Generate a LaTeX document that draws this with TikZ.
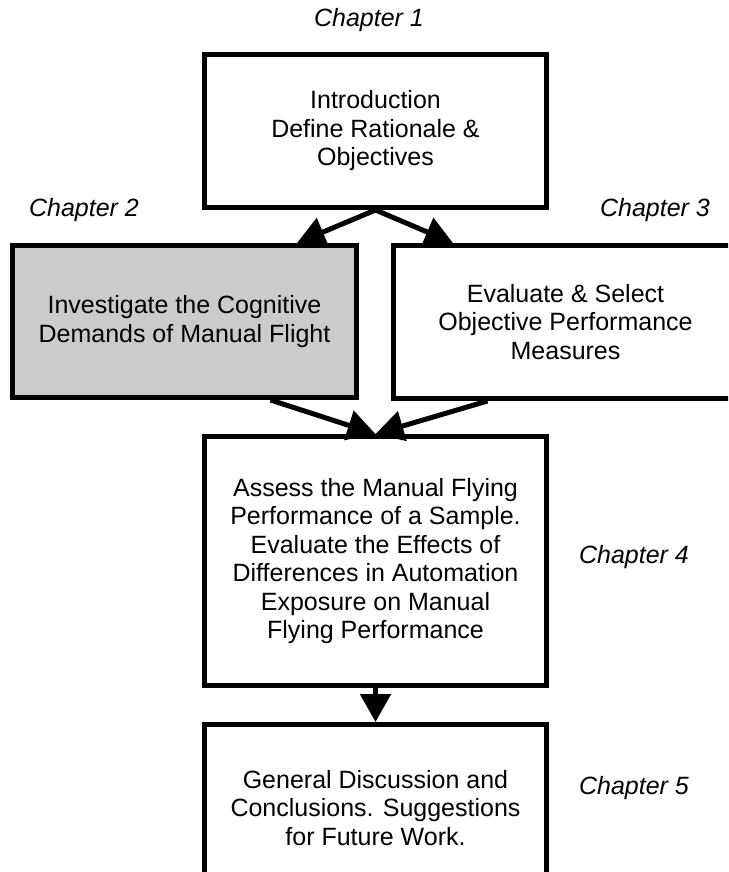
\documentclass[tikz,border=0pt]{standalone}
\usepackage{fontspec}
\setmainfont{Liberation Sans}
\usetikzlibrary{arrows.meta, positioning}
\definecolor{boxgray}{RGB}{203,203,203}

\begin{document}
\begin{tikzpicture}[x=0.5pt, y=-0.5pt,
    stage/.style={rectangle, draw, line width=2.5pt, align=center,
      font=\fontsize{12.5}{14.25}\selectfont, inner sep=0pt},
    chapter/.style={font=\fontsize{12.5}{14.25}\selectfont\itshape},
    flow/.style={line width=2.5pt, -{Triangle[length=14pt,width=15pt]}}]
  \path[use as bounding box, clip] (0,0) rectangle (728,872);

  % STAGES

  \node[stage, minimum width=171pt, minimum height=76.5pt] (intro) at (375.5,131)
    {Introduction\\Define Rationale \&\\Objectives};

  \node[stage, fill=boxgray, minimum width=172pt, minimum height=76pt] (cognitive) at (184.5,321.5)
    {Investigate the Cognitive\\Demands of Manual Flight};

  \node[stage, minimum width=172pt, minimum height=76.5pt] (measures) at (565.5,322)
    {Evaluate \& Select\\Objective Performance\\Measures};

  \node[stage, minimum width=171pt, minimum height=124.5pt] (assess) at (375.5,561)
    {Assess the Manual Flying\\Performance of a Sample.\\Evaluate the Effects of\\Differences in Automation\\Exposure on Manual\\Flying Performance};

  \node[stage, minimum width=171pt, minimum height=83.5pt] (discussion) at (375.5,808)
    {General Discussion and\\Conclusions. Suggestions\\for Future Work.};

  % CHAPTERS

  \node[chapter] (ch1) at (369,20) {Chapter 1};
  \node[chapter] (ch2) at (84,210) {Chapter 2};
  \node[chapter] (ch3) at (655,210) {Chapter 3};
  \node[chapter] (ch4) at (634,557) {Chapter 4};
  \node[chapter] (ch5) at (634,788) {Chapter 5};

  % FLOW

  \draw[flow] (intro.south) -- ([xshift=56.25pt]cognitive.north);
  \draw[flow] (intro.south) -- ([xshift=-56.25pt]measures.north);
  \draw[flow] ([xshift=43pt]cognitive.south) -- (assess.north);
  \draw[flow] ([xshift=-39pt]measures.south) -- (assess.north);
  \draw[flow] (assess.south) -- (discussion.north);

\end{tikzpicture}
\end{document}
